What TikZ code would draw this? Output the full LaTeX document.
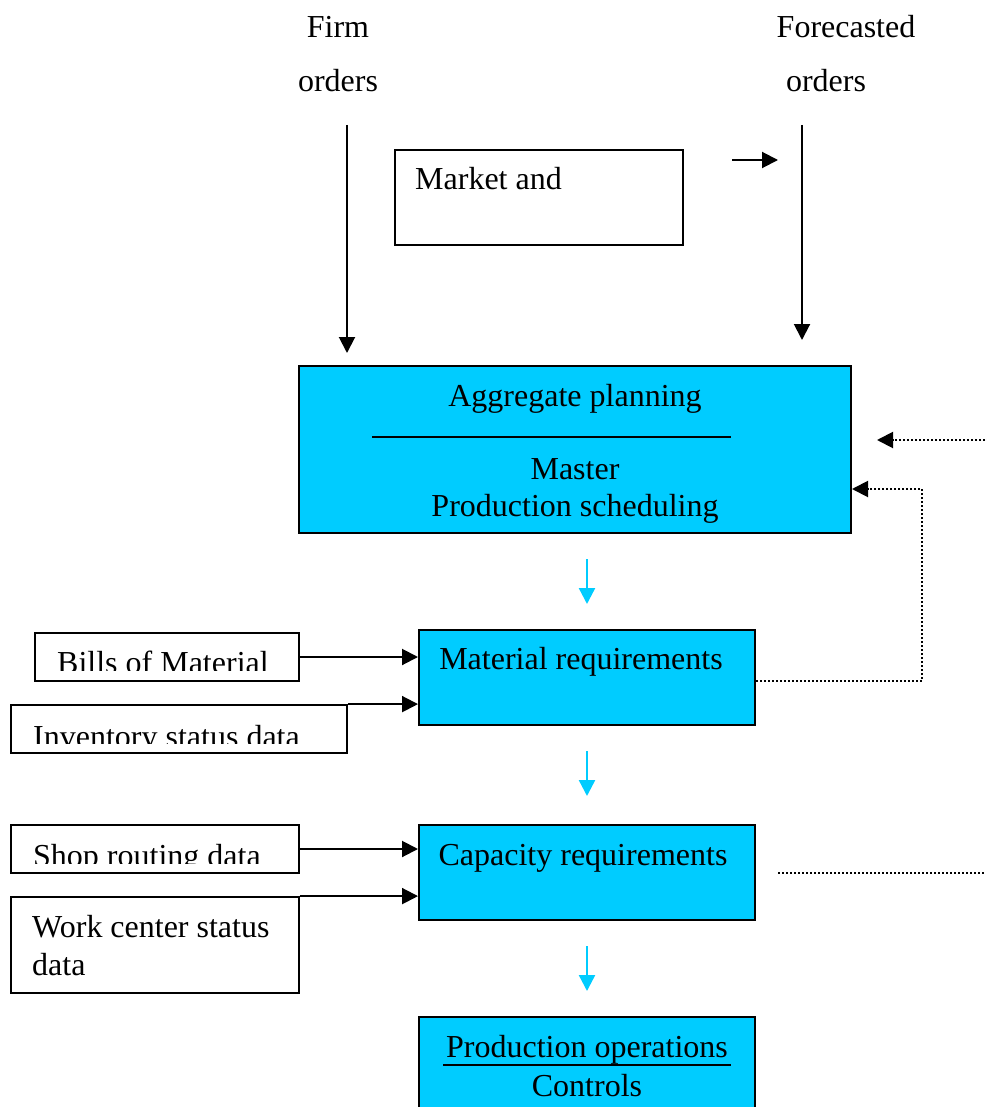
\documentclass[tikz,border=0pt]{standalone}
\usepackage{fontspec}
\setmainfont{Liberation Serif}
\usetikzlibrary{arrows.meta}
\definecolor{boxcyan}{HTML}{00CCFF}
\tikzstyle{block}=[draw,line width=2pt,fill=boxcyan,inner sep=0pt]
\tikzstyle{inbox}=[draw,line width=1.8pt,fill=white,inner sep=0pt]
\tikzstyle{lbl}=[inner sep=0pt,anchor=base,font=\fontsize{32}{37}\selectfont]
\tikzstyle{feed}=[-{Triangle[length=16pt,width=16pt]},line width=2pt]
\tikzstyle{flow}=[-{Triangle[length=16pt,width=16pt]},boxcyan,line width=2.4pt]
\tikzstyle{fb}=[dash pattern=on 2pt off 2pt,line width=2pt]

\begin{document}
\begin{tikzpicture}[x=1pt,y=-1pt]
\useasboundingbox (0,0) rectangle (987,1107);
\clip (0,0) rectangle (987,1107);
% order sources
\node[lbl] at (338,38) (firm) {Firm};
\node[lbl] at (338,92) (firmord) {orders};
\node[lbl] at (846,38) (fcst) {Forecasted};
\node[lbl] at (826,92) (fcstord) {orders};
\node[inbox, minimum width=288pt, minimum height=95pt] at (539,197.5) (mkt) {};
\node[lbl, anchor=base west] at (415,190) (mkttxt) {Market and};
\coordinate (firmtop) at (347,125);
\coordinate (fcsttop) at (802,125);
\coordinate (mktout) at (732,160);
\coordinate (mktin) at (778,160);
% planning blocks
\node[block, minimum width=552pt, minimum height=167pt] at (575,449.5) (agg) {};
\node[lbl] at (575,406) (aggtxt) {Aggregate planning};
\draw[line width=1.8pt] (372,437) -- (731,437);
\node[lbl] at (575,479) (mstr) {Master};
\node[lbl] at (575,516) (mps) {Production scheduling};
\node[block, minimum width=336pt, minimum height=95pt] at (587,677.5) (mrp) {};
\node[lbl] at (581,669) (mrptxt) {Material requirements};
\node[block, minimum width=336pt, minimum height=95pt] at (587,872.5) (crp) {};
\node[lbl] at (583,865) (crptxt) {Capacity requirements};
\node[block, minimum width=336pt, minimum height=110pt] at (587,1072) (prod) {};
\node[lbl] at (587,1057) (prodtxt) {Production operations};
\draw[line width=1.8pt] (443,1065) -- (731,1065);
\node[lbl] at (587,1096) (ctrl) {Controls};
% input data
\node[inbox, minimum width=264pt, minimum height=48pt] at (167,657) (bom) {};
\begin{scope}
\clip (37,635) rectangle (297,670);
\node[lbl, anchor=base west] at (57,673) (bomtxt) {Bills of Material};
\end{scope}
\node[inbox, minimum width=336pt, minimum height=48pt] at (179,729) (inv) {};
\begin{scope}
\clip (13,707) rectangle (345,743);
\node[lbl, anchor=base west] at (33,747) (invtxt) {Inventory status data};
\end{scope}
\node[inbox, minimum width=288pt, minimum height=48pt] at (155,849) (shop) {};
\begin{scope}
\clip (13,827) rectangle (297,863);
\node[lbl, anchor=base west] at (33,866) (shoptxt) {Shop routing data};
\end{scope}
\node[inbox, minimum width=288pt, minimum height=96pt] at (155,945) (wc) {};
\node[lbl, anchor=base west] at (32,937) (wctxt) {Work center status};
\node[lbl, anchor=base west] at (32,975) (wctxt2) {data};
% connectors
\draw[feed, shorten >=12pt] (firmtop) -- (firmtop |- agg.north);
\draw[feed, shorten >=25pt] (fcsttop) -- (fcsttop |- agg.north);
\draw[feed] (mktout) -- (mktin);
\draw[feed] (bom.east) -- (mrp.west |- bom.east);
\draw[feed] (inv.north east) -- (mrp.west |- inv.north east);
\draw[feed] (shop.east) -- (crp.west |- shop.east);
\draw[feed] (wc.north east) -- (crp.west |- wc.north east);
\draw[flow, shorten <=25pt, shorten >=25pt] (agg.south -| mrp.north) -- (mrp.north);
\draw[flow, shorten <=25pt, shorten >=28pt] (mrp.south) -- (crp.north);
\draw[flow, shorten <=25pt, shorten >=25pt] (crp.south) -- (prod.north);
% feedback
\coordinate (fbin) at (985,440);
\draw[fb, -{Triangle[length=16pt,width=16pt]}, shorten >=25pt] (fbin) -- (agg.east |- fbin);
\coordinate (fbturn) at (922,489);
\draw[fb, -{Triangle[length=16pt,width=16pt]}] ([yshift=-3.5pt]mrp.east) -| (fbturn) -- (agg.east |- fbturn);
\coordinate (crpout) at (778,873);
\coordinate (crpend) at (985,873);
\draw[fb] (crpout) -- (crpend);
\end{tikzpicture}
\end{document}
